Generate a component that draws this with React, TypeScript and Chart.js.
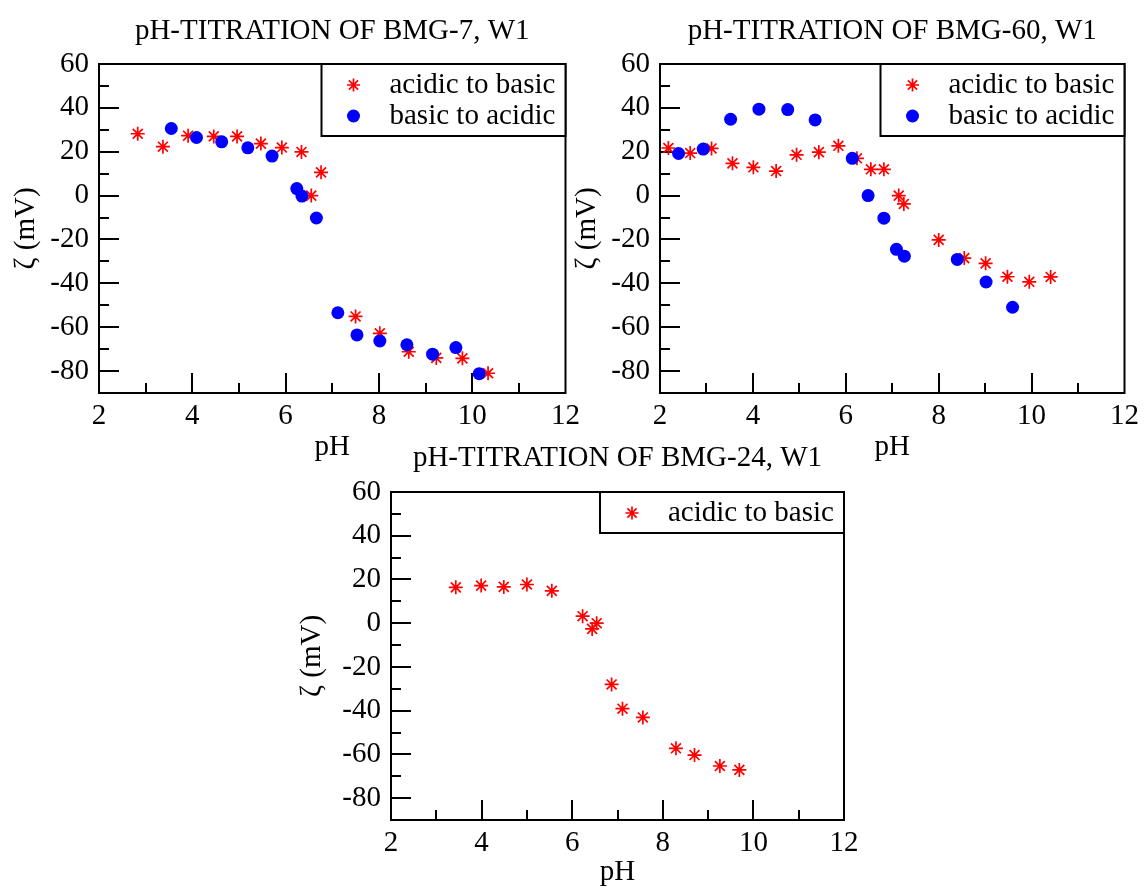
import React, { useEffect, useRef } from 'react';
import { Chart, registerables } from 'chart.js';

Chart.register(...registerables);

const FONT = '"Liberation Serif", "Times New Roman", Times, serif';
const FS = 29;

// ---- data (pH, zeta potential in mV) ----
const xTickMajor = [2, 4, 6, 8, 10, 12];
const yTickMajor = [-80, -60, -40, -20, 0, 20, 40, 60];

// BMG-7, W1
const bmg7AcidicPH = [2.83, 3.37, 3.91, 4.46, 4.96, 5.47, 5.92, 6.34, 6.55, 6.76, 7.5, 8.02, 8.64, 9.23, 9.79, 10.34];
const bmg7AcidicZeta = [28.2, 22.3, 27.3, 27.0, 27.0, 23.7, 21.9, 19.9, 0.0, 10.6, -55.1, -62.8, -71.2, -74.0, -74.2, -81.0];
const bmg7BasicPH = [3.55, 4.09, 4.63, 5.19, 5.71, 6.24, 6.35, 6.66, 7.12, 7.53, 8.02, 8.6, 9.15, 9.65, 10.15];
const bmg7BasicZeta = [30.6, 26.5, 24.5, 21.8, 18.0, 3.2, -0.2, -10.2, -53.4, -63.5, -66.3, -68.0, -72.3, -69.3, -81.2];

// BMG-60, W1
const bmg60AcidicPH = [2.18, 2.65, 3.11, 3.56, 4.01, 4.5, 4.94, 5.42, 5.84, 6.24, 6.54, 6.82, 7.14, 7.25, 8.0, 8.55, 9.01, 9.48, 9.95, 10.41];
const bmg60AcidicZeta = [21.7, 19.4, 21.5, 14.7, 12.9, 11.2, 18.6, 19.8, 22.7, 17.0, 12.0, 12.0, 0.0, -3.8, -20.2, -28.5, -30.9, -37.0, -39.3, -37.1];
const bmg60BasicPH = [2.4, 2.93, 3.52, 4.13, 4.75, 5.34, 6.14, 6.48, 6.82, 7.09, 7.26, 8.4, 9.02, 9.59];
const bmg60BasicZeta = [19.2, 21.2, 34.8, 39.4, 39.2, 34.5, 17.0, 0.0, -10.3, -24.5, -27.6, -29.1, -39.4, -50.9];

// BMG-24, W1
const bmg24AcidicPH = [3.43, 3.99, 4.49, 5.0, 5.55, 6.23, 6.44, 6.54, 6.87, 7.11, 7.56, 8.29, 8.7, 9.26, 9.69];
const bmg24AcidicZeta = [16.4, 17.2, 16.6, 17.7, 14.8, 3.2, -2.6, 0.0, -28.0, -39.1, -43.1, -57.2, -60.3, -65.3, -67.1];

const LABEL_A = 'acidic to basic';
const LABEL_B = 'basic to acidic';

type Series = { label: string; ph: number[]; zeta: number[]; kind: 'star' | 'circle' };

type PanelProps = {
  left: number; top: number; width: number; height: number;
  title: string; titleY: number; padTop: number; padRight: number;
  yAxisWidth: number; xAxisHeight: number; yTitlePad: number; xTitlePad: number;
  series: Series[];
};

function drawStar(ctx: CanvasRenderingContext2D, x: number, y: number, r: number) {
  ctx.save();
  ctx.strokeStyle = '#ff0000';
  ctx.lineWidth = 1.7;
  ctx.beginPath();
  for (let k = 0; k < 4; k++) {
    const a = (k * Math.PI) / 4;
    ctx.moveTo(x - Math.cos(a) * r, y - Math.sin(a) * r);
    ctx.lineTo(x + Math.cos(a) * r, y + Math.sin(a) * r);
  }
  ctx.stroke();
  ctx.restore();
}

function drawCircle(ctx: CanvasRenderingContext2D, x: number, y: number, r: number) {
  ctx.save();
  ctx.fillStyle = '#0000ff';
  ctx.beginPath();
  ctx.arc(x, y, r, 0, Math.PI * 2);
  ctx.fill();
  ctx.restore();
}

function Panel(p: PanelProps) {
  const ref = useRef<HTMLCanvasElement | null>(null);
  useEffect(() => {
    if (!ref.current) return;
    const font = { family: FONT, size: FS, weight: 'normal' as const };
    const decor = {
      id: 'decor',
      beforeDatasetsDraw(chart: any) {
        const { ctx, chartArea: a } = chart;
        const xs = chart.scales.x;
        const ys = chart.scales.y;
        ctx.save();
        ctx.strokeStyle = '#000';
        ctx.lineWidth = 2;
        ctx.beginPath();
        ys.ticks.forEach((t: any) => {
          const v = t.value;
          if (v <= -90 || v >= 60) return;
          const py = Math.round(ys.getPixelForValue(v));
          const len = yTickMajor.includes(v) ? 20 : 10;
          ctx.moveTo(a.left, py);
          ctx.lineTo(a.left + len, py);
        });
        xs.ticks.forEach((t: any) => {
          const v = t.value;
          if (v <= 2 || v >= 12) return;
          const px = Math.round(xs.getPixelForValue(v));
          const len = xTickMajor.includes(v) ? 20 : 10;
          ctx.moveTo(px, a.bottom);
          ctx.lineTo(px, a.bottom - len);
        });
        ctx.stroke();
        ctx.strokeRect(a.left, a.top, a.right - a.left, a.bottom - a.top);
        ctx.restore();
      },
      afterDraw(chart: any) {
        const { ctx, chartArea: a } = chart;
        ctx.save();
        // title
        ctx.fillStyle = '#000';
        ctx.font = `${FS}px ${FONT}`;
        ctx.textAlign = 'center';
        ctx.textBaseline = 'middle';
        ctx.fillText(p.title, (a.left + a.right) / 2, p.titleY);
        // legend
        const n = p.series.length;
        const bw = 244;
        const bh = 10 + 31 * n;
        const bx = a.right - bw;
        const by = a.top;
        ctx.fillStyle = '#fff';
        ctx.fillRect(bx, by, bw, bh);
        ctx.strokeStyle = '#000';
        ctx.lineWidth = 2;
        ctx.strokeRect(bx, by, bw, bh);
        p.series.forEach((s, i) => {
          const ry = by + 21 + 31 * i;
          if (s.kind === 'star') drawStar(ctx, bx + 32, ry, 6.5);
          else drawCircle(ctx, bx + 32, ry, 6.5);
          ctx.fillStyle = '#000';
          ctx.font = `${FS}px ${FONT}`;
          ctx.textAlign = 'left';
          ctx.textBaseline = 'middle';
          ctx.fillText(s.label, bx + 68, ry);
        });
        ctx.restore();
      },
    };
    const chart = new Chart(ref.current, {
      type: 'scatter',
      data: {
        datasets: p.series.map((s) => ({
          label: s.label,
          data: s.ph.map((x, i) => ({ x, y: s.zeta[i] })),
          showLine: false,
          order: s.kind === 'circle' ? 0 : 1,
          pointStyle: s.kind === 'star' ? 'star' : 'circle',
          pointRadius: s.kind === 'star' ? 7 : 6.5,
          pointHoverRadius: 6.5,
          borderColor: s.kind === 'star' ? '#ff0000' : '#0000ff',
          backgroundColor: s.kind === 'star' ? '#ff0000' : '#0000ff',
          borderWidth: s.kind === 'star' ? 1.7 : 0,
        })),
      },
      options: {
        animation: false,
        responsive: false,
        events: [],
        layout: { padding: { left: 0, right: p.padRight, top: p.padTop, bottom: 0 } },
        plugins: {
          legend: { display: false },
          tooltip: { enabled: false },
          title: { display: false },
        },
        scales: {
          x: {
            type: 'linear',
            position: 'bottom',
            min: 2,
            max: 12,
            afterFit: (s: any) => { s.height = p.xAxisHeight; },
            grid: { display: false, drawTicks: false },
            border: { display: false },
            ticks: {
              stepSize: 1,
              autoSkip: false,
              maxRotation: 0,
              padding: 6,
              color: '#000',
              font,
              callback: (v: any) => (xTickMajor.includes(Number(v)) ? String(v) : ''),
            },
            title: {
              display: true,
              text: 'pH',
              color: '#000',
              font: { ...font, lineHeight: 1 },
              padding: { top: 0, bottom: p.xTitlePad },
            },
          },
          y: {
            type: 'linear',
            position: 'left',
            min: -90,
            max: 60,
            afterFit: (s: any) => { s.width = p.yAxisWidth; },
            grid: { display: false, drawTicks: false },
            border: { display: false },
            ticks: {
              stepSize: 10,
              autoSkip: false,
              padding: 10,
              color: '#000',
              font,
              callback: (v: any) => (yTickMajor.includes(Number(v)) ? String(v) : ''),
            },
            title: {
              display: true,
              text: 'ζ (mV)',
              color: '#000',
              font: { ...font, lineHeight: 1 },
              padding: { top: p.yTitlePad, bottom: 0 },
            },
          },
        },
      },
      plugins: [decor],
    } as any);
    return () => chart.destroy();
  }, []);
  return (
    <canvas
      ref={ref}
      width={p.width}
      height={p.height}
      style={{ position: 'absolute', left: p.left, top: p.top, width: p.width, height: p.height }}
    />
  );
}

export default function App() {
  const s7: Series[] = [
    { label: LABEL_A, ph: bmg7AcidicPH, zeta: bmg7AcidicZeta, kind: 'star' },
    { label: LABEL_B, ph: bmg7BasicPH, zeta: bmg7BasicZeta, kind: 'circle' },
  ];
  const s60: Series[] = [
    { label: LABEL_A, ph: bmg60AcidicPH, zeta: bmg60AcidicZeta, kind: 'star' },
    { label: LABEL_B, ph: bmg60BasicPH, zeta: bmg60BasicZeta, kind: 'circle' },
  ];
  const s24: Series[] = [
    { label: LABEL_A, ph: bmg24AcidicPH, zeta: bmg24AcidicZeta, kind: 'star' },
  ];
  return (
    <>
      <Panel left={0} top={0} width={586} height={470} title="pH-TITRATION OF BMG-7, W1" titleY={31}
        padTop={64} padRight={20} yAxisWidth={99} xAxisHeight={77} yTitlePad={12} xTitlePad={8} series={s7} />
      <Panel left={560} top={0} width={585} height={470} title="pH-TITRATION OF BMG-60, W1" titleY={31}
        padTop={64} padRight={18} yAxisWidth={100} xAxisHeight={77} yTitlePad={13} xTitlePad={8} series={s60} />
      <Panel left={280} top={430} width={600} height={457} title="pH-TITRATION OF BMG-24, W1" titleY={28.5}
        padTop={62} padRight={36} yAxisWidth={111} xAxisHeight={67} yTitlePad={18} xTitlePad={0} series={s24} />
    </>
  );
}
